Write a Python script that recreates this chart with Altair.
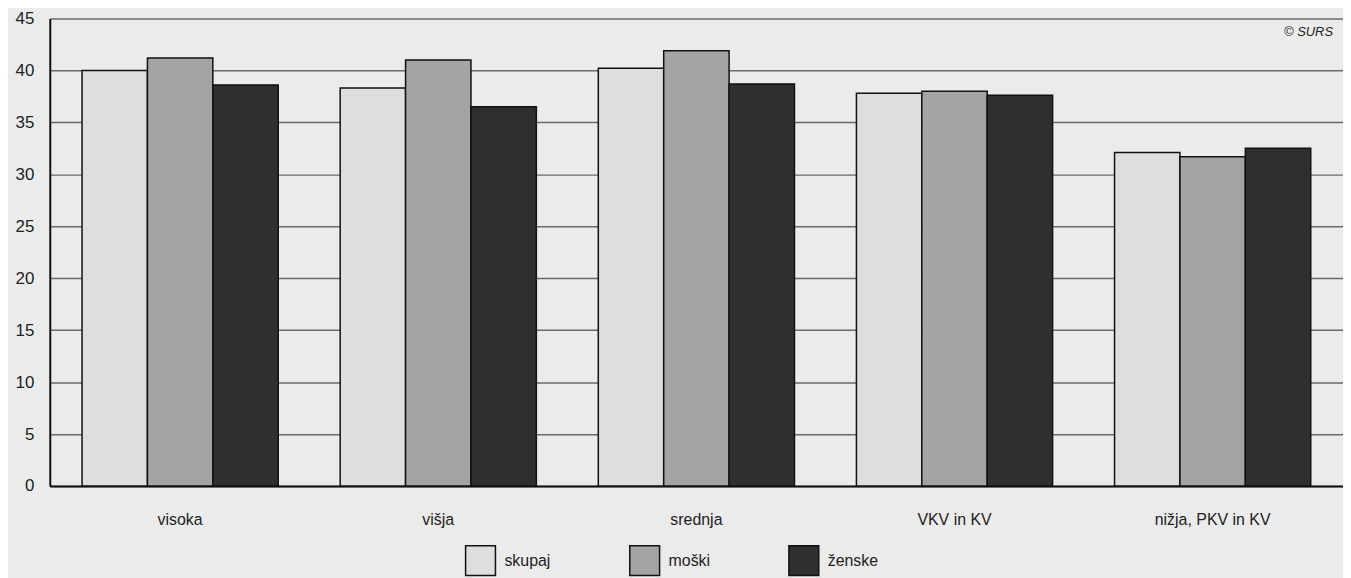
import altair as alt
import pandas as pd

categories = ["visoka", "višja", "srednja", "VKV in KV", "nižja, PKV in KV"]
series = ["skupaj", "moški", "ženske"]
skupaj = [40.0, 38.3, 40.2, 37.8, 32.1]
moski = [41.2, 41.0, 41.9, 38.0, 31.7]
zenske = [38.6, 36.5, 38.7, 37.6, 32.5]
colors = ["#dedede", "#a4a4a4", "#2f2f2f"]

rows = []
for i, c in enumerate(categories):
    for s, vals in zip(series, [skupaj, moski, zenske]):
        rows.append({"kategorija": c, "spol": s, "vrednost": vals[i]})
df = pd.DataFrame(rows)

FONT = "Liberation Sans"

bars = alt.Chart(df).mark_bar(stroke="#111111", strokeWidth=1.5).encode(
    x=alt.X("kategorija:N", sort=categories, title=None,
            scale=alt.Scale(paddingInner=0.24, paddingOuter=0.125),
            axis=alt.Axis(labelAngle=0, labelFontSize=16, labelColor="#222222",
                          labelFont=FONT, labelPadding=26, ticks=False,
                          domain=True, domainColor="#111111", domainWidth=2)),
    xOffset=alt.XOffset("spol:N", sort=series, scale=alt.Scale(paddingInner=0, paddingOuter=0)),
    y=alt.Y("vrednost:Q", title=None,
            scale=alt.Scale(domain=[0, 45], nice=False),
            axis=alt.Axis(values=list(range(0, 50, 5)), labelFontSize=17,
                          labelColor="#222222", labelFont=FONT, labelPadding=16,
                          ticks=False, domainColor="#111111", domainWidth=2,
                          grid=True, gridColor="#6a6a6a", gridWidth=1.5)),
    color=alt.Color("spol:N", sort=series,
                    scale=alt.Scale(domain=series, range=colors),
                    legend=alt.Legend(title=None, orient="none", direction="horizontal",
                                      columns=3, legendX=417, legendY=529,
                                      symbolType="square", symbolSize=900,
                                      symbolStrokeColor="#111111", symbolStrokeWidth=1.5,
                                      symbolOpacity=1,
                                      labelFontSize=16, labelFont=FONT, labelColor="#222222",
                                      labelOffset=8, columnPadding=76)),
)

note = alt.Chart(pd.DataFrame({"t": ["© SURS"]})).mark_text(
    align="right", baseline="middle", fontSize=13, fontStyle="italic",
    font=FONT, color="#222222"
).encode(x=alt.value(1290), y=alt.value(14), text="t:N")

chart = alt.layer(bars, note).properties(
    width=1300, height=470,
    autosize=alt.AutoSizeParams(type="none"),
    padding={"left": 42, "top": 9, "right": 0, "bottom": 95},
    background="#ebebeb",
).configure_view(stroke=None)

chart.save("out.html", embed_options={"renderer": "svg", "actions": False})
